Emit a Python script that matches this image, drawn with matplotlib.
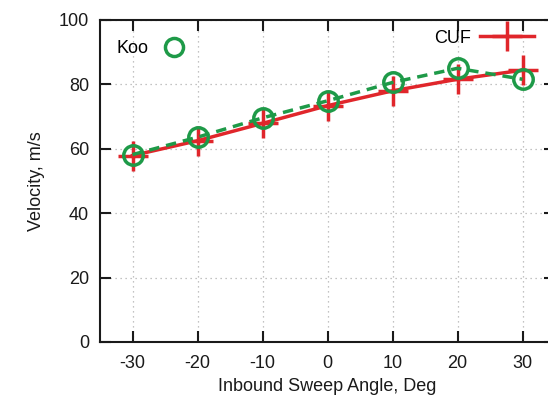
import matplotlib
matplotlib.use("Agg")
import matplotlib.pyplot as plt
from matplotlib.lines import Line2D

plt.rcParams['font.family'] = ['Liberation Sans', 'DejaVu Sans']
plt.rcParams['axes.unicode_minus'] = False

angles = [-30, -20, -10, 0, 10, 20, 30]
koo = [58.2, 63.6, 69.6, 74.9, 80.6, 85.0, 81.6]
cuf = [57.9, 62.5, 67.9, 73.4, 78.0, 81.6, 84.4]
xticks = [-30, -20, -10, 0, 10, 20, 30]
yticks = [0, 20, 40, 60, 80, 100]

red = '#e0262b'
green = '#1e9a48'
ink = '#1a1a1a'

fig = plt.figure(figsize=(5.48, 4.01), dpi=100)
ax = fig.add_axes([100/548, 59/401, 455/548, 322/401])

ax.plot(angles, cuf, color=red, lw=2.5, marker='+', ms=22, mew=2.5, zorder=3)
ax.plot(angles, koo, color=green, lw=2.5, ls=(0, (3, 2)), marker='o', ms=14,
        mfc='none', mec=green, mew=2.5, zorder=4)

ax.set_xlim(-35, 35)
ax.set_ylim(0, 100)
ax.set_xticks(xticks)
ax.set_yticks(yticks)
ax.tick_params(direction='in', length=8, width=1.5, top=True, right=True,
               labelsize=13, pad=8, colors=ink)
ax.tick_params(axis='x', pad=9)
for s in ax.spines.values():
    s.set_linewidth(1.5)
    s.set_color(ink)
ax.grid(True, color='#b0b0b0', ls=(0, (1, 3)), lw=0.9)

ax.set_xlabel('Inbound Sweep Angle, Deg', fontsize=13, labelpad=5, color=ink)
ax.set_ylabel('Velocity, m/s', fontsize=13, labelpad=10, color=ink)

h_koo = Line2D([], [], color=green, ls='none', marker='o', ms=13, mfc='none', mew=2.5)
h_cuf = Line2D([], [], color=red, lw=2.5, marker='+', ms=22, mew=2.5)
leg1 = ax.legend([h_koo], ['Koo'], loc='upper left', bbox_to_anchor=(0.0, 0.988),
                 frameon=False, markerfirst=False, fontsize=13, handlelength=1.5,
                 handletextpad=0.7)
ax.add_artist(leg1)
ax.legend([h_cuf], ['CUF'], loc='upper right', bbox_to_anchor=(0.99, 1.02),
          frameon=False, markerfirst=False, fontsize=13, handlelength=3.0,
          handletextpad=0.5)

fig.savefig('out.png', dpi=100)
